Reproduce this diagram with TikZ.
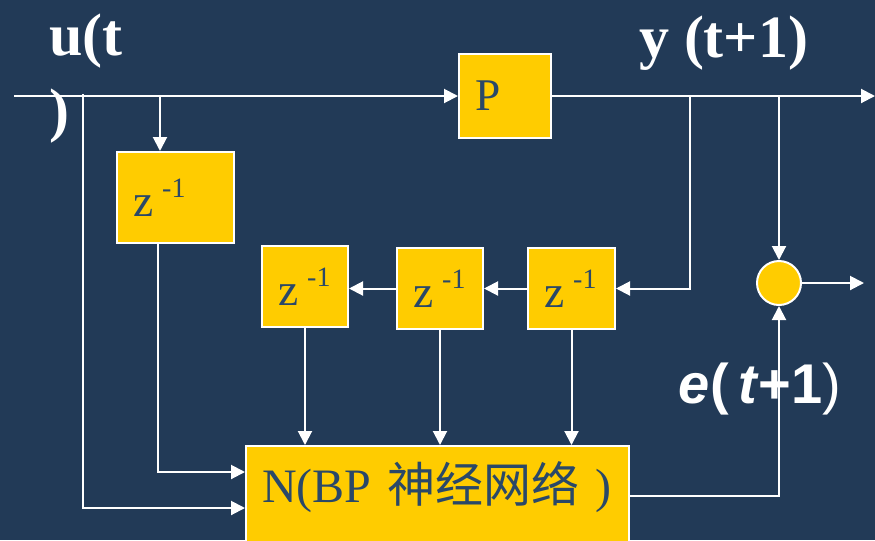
\documentclass[tikz,border=0pt]{standalone}
\usepackage{fontspec}
\setmainfont{Liberation Serif}
\newfontfamily\cjk{Noto Sans CJK SC}
\newfontfamily\arialfont{Liberation Sans}
\usetikzlibrary{arrows.meta}

\definecolor{slidebg}{RGB}{34,58,87}
\definecolor{boxyellow}{RGB}{255,204,0}
\definecolor{boxtext}{RGB}{42,72,104}
\newcommand{\zinv}{z\hspace{0.2em}\raisebox{0.42em}{\fontsize{21}{21}\selectfont -1}}

\tikzset{every picture/.style={line width=1.5pt}}
\tikzset{
  blockbox/.style={draw=white, fill=boxyellow, text=boxtext, inner ysep=0pt, inner xsep=12pt,
    align=left, font=\fontsize{34}{40}\selectfont},
  sumnode/.style={circle, draw=white, fill=boxyellow, minimum size=33pt, inner sep=0pt},
  sig/.style={draw=white, -{Triangle[length=10.5pt,width=10.5pt]}},
  headline/.style={text=white, inner sep=0pt, font=\bfseries\fontsize{45}{56}\selectfont},
}

\begin{document}
\begin{tikzpicture}[x=0.75pt,y=0.75pt,yscale=-1,xscale=1]
\useasboundingbox (0,0) rectangle (875,540);
\fill[slidebg] (0,0) rectangle (875,540);

% Blocks
\node[blockbox, text width=45pt, minimum height=63pt] (P) at (505,96) {P};
\node[blockbox, text width=63.75pt, minimum height=68.25pt] (z1) at (175.5,197.5) {\zinv};
\node[blockbox, text width=40.5pt, minimum height=60.75pt] (zA) at (305,286.5) {\zinv};
\node[blockbox, text width=40.5pt, minimum height=60.75pt] (zB) at (440,288.5) {\zinv};
\node[blockbox, text width=41.25pt, minimum height=60.75pt] (zC) at (571.5,288.5) {\zinv};
\node[blockbox, text width=263.25pt, minimum height=75pt, text height=22.5pt, text depth=13.5pt,
  font=\fontsize{36}{40}\selectfont] (N) at (437.5,496) {N(BP {\cjk 神经网络} )};
\node[sumnode] (sum) at (779,283) {};

% Taps and free ends
\coordinate (uin) at (14,96);
\coordinate (yout) at (875,96);
\coordinate (utap) at (83,94);
\coordinate (ztap) at (160,96);
\coordinate (ptap) at (690,96);
\coordinate (etap) at (779,96);
\coordinate (eout) at (864,283);

%Straight Lines
\draw[sig] (uin) -- (P.west);
\draw[sig] (P.east) -- (yout);
\draw[sig] (ztap) -- (ztap |- z1.north);
\draw[sig] (utap) |- ([yshift=9pt]N.west);
\draw[sig] ([xshift=-13pt]z1.south) |- ([yshift=-18pt]N.west);
\draw[sig] (ptap) |- (zC.east);
\draw[sig] (zC.west) -- (zB.east);
\draw[sig] (zB.west) -- (zB.west -| zA.east);
\draw[sig] (zA.south) -- (zA.south |- N.north);
\draw[sig] (zB.south) -- (zB.south |- N.north);
\draw[sig] (zC.south) -- (zC.south |- N.north);
\draw[sig] (etap) -- (sum.north);
\draw[sig] (N.east) -| (sum.south);
\draw[sig] (sum.east) -- (eout);

% Text Node
\node[headline, align=left, anchor=north west] (ulabel) at (48,13) {u(t\\)};
% Text Node
\node[headline, anchor=base west] (ylabel) at (638,57) {y (t+1)};
% Text Node
\node[text=white, inner sep=0pt, anchor=base, font=\arialfont\bfseries\fontsize{42}{44}\selectfont]
  (elabel) at (760,403) {\textit{e}(\,\textit{t}+1\textmd{)}};

\end{tikzpicture}
\end{document}
